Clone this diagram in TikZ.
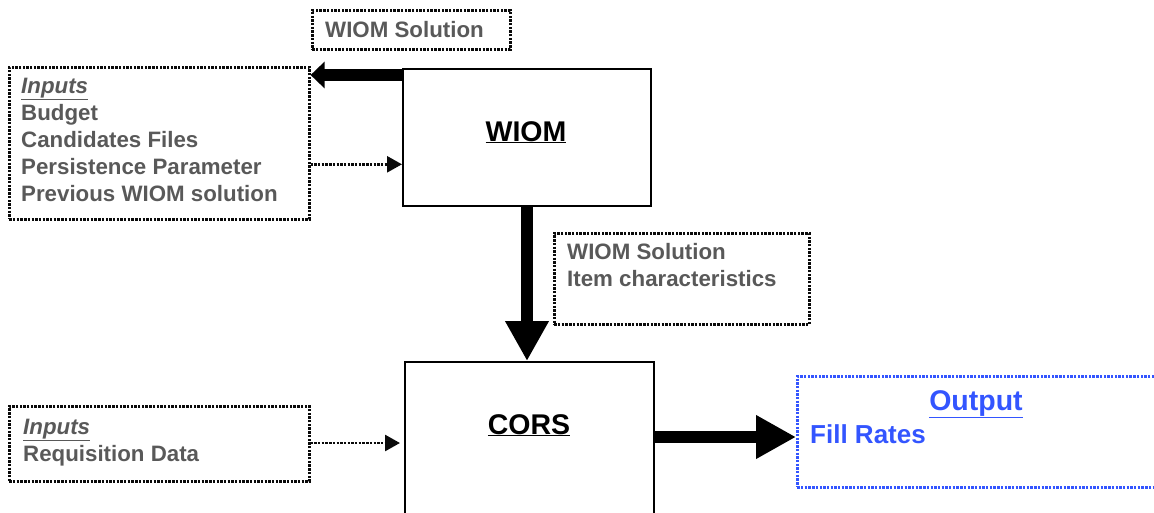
\documentclass[tikz,border=0pt]{standalone}
\usepackage{fontspec}
\setmainfont{Liberation Sans}
\usetikzlibrary{arrows.meta}
\definecolor{txtgray}{RGB}{89,89,89}
\definecolor{outblue}{RGB}{51,85,255}
\definecolor{dotc}{RGB}{10,10,10}
\begin{document}
\begin{tikzpicture}[x=1pt,y=-1pt,
  dotbox/.style={draw=dotc, line width=2.6pt, dash pattern=on 2.4pt off 1.3pt, rectangle, inner sep=0pt, anchor=north west},
  bluebox/.style={draw=outblue, line width=2.6pt, dash pattern=on 2.4pt off 1.3pt, rectangle, inner sep=0pt, anchor=north west},
  solidbox/.style={draw=black, line width=1.8pt, rectangle, inner sep=0pt, anchor=north west},
  gtext/.style={font=\bfseries\fontsize{22.3}{27}\selectfont, text=txtgray, align=left, anchor=base west, inner sep=0pt},
  btext/.style={font=\bfseries\fontsize{26}{30}\selectfont, text=outblue, align=left, anchor=base west, inner sep=0pt},
  title/.style={font=\bfseries\fontsize{28.5}{30}\selectfont, inner sep=0pt, anchor=base},
  fatarrow/.style={line width=12pt, -{Triangle[length=40pt,width=41pt]}},
  leftarrow/.style={line width=12pt, -{Triangle[length=14pt,width=26pt]}},
  dotarrow/.style={draw=dotc, line width=2.6pt, dash pattern=on 2.4pt off 1.3pt, -{Triangle[length=15pt,width=16pt]}}
]
\useasboundingbox (0,0) rectangle (1154,512);

% boxes
\node[solidbox, minimum width=248pt, minimum height=137pt] (wiom) at (402,68) {};
\node[solidbox, minimum width=249pt, minimum height=160pt] (cors) at (404,361) {};
\node[dotbox, minimum width=198pt, minimum height=39pt] (sol) at (311,9) {};
\node[dotbox, minimum width=300pt, minimum height=152pt] (in1) at (8,66) {};
\node[dotbox, minimum width=255pt, minimum height=91pt] (mid) at (553,232) {};
\node[dotbox, minimum width=300pt, minimum height=75pt] (in2) at (8,405) {};
\node[bluebox, minimum width=380pt, minimum height=111pt] (out) at (796,375) {};

% titles
\node[title] (wiomt) at (526,141) {\underline{WIOM}};
\node[title] (corst) at (529,434) {\underline{CORS}};
\node[title, text=outblue] (outt) at (976,410) {\underline{Output}};

% texts (anchored at the baseline of their last line)
\node[gtext] (solt) at (325,37) {WIOM Solution};
\node[gtext] (in1t) at (21,201) {\textit{\underline{Inputs}}\\Budget\\Candidates Files\\Persistence Parameter\\Previous WIOM solution};
\node[gtext] (midt) at (567,286) {WIOM Solution\\Item characteristics};
\node[gtext] (in2t) at (23,461) {\textit{\underline{Inputs}}\\Requisition Data};
\node[btext] (outf) at (810,443) {Fill Rates};

% connectors
\coordinate (wl) at ([yshift=-7pt]wiom.north west);
\coordinate (il) at (in1.east |- wl);
\draw[leftarrow] (wl) -- (il);
\coordinate (ia) at ([yshift=-21pt]in1.east);
\draw[dotarrow] (ia) -- (wiom.west |- ia);
\draw[fatarrow] (wiom.south -| 527,0) -- (cors.north -| 527,0);
\coordinate (cr) at (cors.east |- 0,437);
\draw[fatarrow] (cr) -- (out.west |- cr);
\coordinate (ib) at (in2.east |- 0,443);
\draw[dotarrow] (ib) -- ([xshift=-4pt]cors.west |- ib);
\end{tikzpicture}
\end{document}
